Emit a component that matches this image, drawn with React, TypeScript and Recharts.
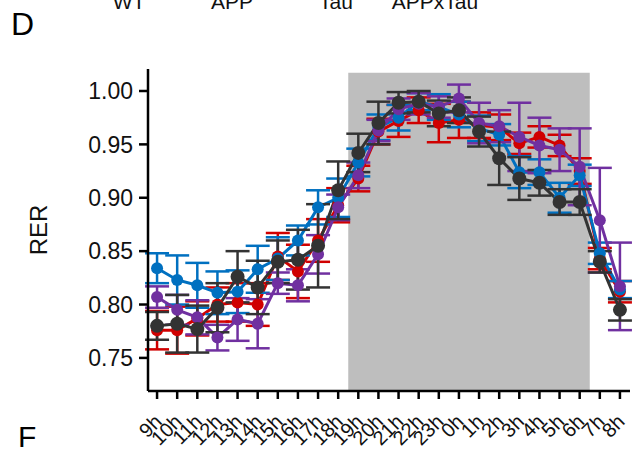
import { LineChart, Line, XAxis, YAxis, ReferenceArea, ErrorBar } from 'recharts';

// hours of the day, 9h through 8h next morning
const hours = ['9h', '10h', '11h', '12h', '13h', '14h', '15h', '16h', '17h', '18h', '19h', '20h',
  '21h', '22h', '23h', '0h', '1h', '2h', '3h', '4h', '5h', '6h', '7h', '8h'];

// RER means and SEM per group
const wt = [0.776, 0.776, 0.787, 0.800, 0.802, 0.800, 0.845, 0.831, 0.860, 0.893, 0.918, 0.962,
  0.972, 0.982, 0.970, 0.973, 0.968, 0.966, 0.951, 0.957, 0.949, 0.925, 0.843, 0.812];
const wtErr = [0.018, 0.022, 0.016, 0.016, 0.018, 0.02, 0.022, 0.025, 0.02, 0.016, 0.012, 0.012,
  0.015, 0.012, 0.018, 0.017, 0.012, 0.012, 0.01, 0.01, 0.01, 0.012, 0.01, 0.01];

const app = [0.834, 0.823, 0.818, 0.811, 0.812, 0.833, 0.843, 0.860, 0.891, 0.900, 0.933, 0.966,
  0.975, 0.990, 0.985, 0.978, 0.965, 0.959, 0.924, 0.924, 0.900, 0.921, 0.848, 0.814];
const appErr = [0.014, 0.023, 0.021, 0.02, 0.02, 0.022, 0.02, 0.014, 0.016, 0.018, 0.013, 0.012,
  0.012, 0.008, 0.012, 0.012, 0.012, 0.01, 0.015, 0.012, 0.014, 0.01, 0.01, 0.008];

const tau = [0.807, 0.795, 0.788, 0.769, 0.786, 0.782, 0.820, 0.818, 0.847, 0.891, 0.921, 0.963,
  0.983, 0.988, 0.985, 0.993, 0.970, 0.967, 0.957, 0.949, 0.945, 0.929, 0.879, 0.817];
const tauErr = [0.01, 0.014, 0.016, 0.012, 0.02, 0.023, 0.01, 0.015, 0.018, 0.012, 0.012, 0.01,
  0.01, 0.01, 0.01, 0.013, 0.019, 0.015, 0.032, 0.026, 0.02, 0.036, 0.049, 0.041];

const appTau = [0.780, 0.782, 0.777, 0.797, 0.826, 0.816, 0.840, 0.842, 0.855, 0.907, 0.942, 0.970,
  0.989, 0.990, 0.979, 0.982, 0.962, 0.937, 0.918, 0.914, 0.896, 0.896, 0.840, 0.795];
const appTauErr = [0.013, 0.027, 0.022, 0.023, 0.024, 0.025, 0.02, 0.028, 0.039, 0.027, 0.018, 0.02,
  0.01, 0.01, 0.012, 0.012, 0.014, 0.025, 0.02, 0.012, 0.012, 0.012, 0.01, 0.01];

const yTicks = [0.75, 0.8, 0.85, 0.9, 0.95, 1.0];
const legendNames = ['WT', 'APP', 'Tau', 'APPxTau'];

const FONT = '"Liberation Sans", Arial, sans-serif';

const data = hours.map((h, i) => ({
  i,
  hour: h,
  wt: wt[i], wtErr: wtErr[i],
  app: app[i], appErr: appErr[i],
  tau: tau[i], tauErr: tauErr[i],
  appTau: appTau[i], appTauErr: appTauErr[i],
}));

const series = [
  { key: 'wt', color: '#D00000', r: 6 },
  { key: 'app', color: '#0070C0', r: 6 },
  { key: 'tau', color: '#7030A0', r: 6 },
  { key: 'appTau', color: '#333333', r: 7 },
];

function HourTick(props: any) {
  const { x, y, payload } = props;
  return (
    <g transform={`translate(${x + 6},${y + 22})`}>
      <text transform="rotate(-45)" textAnchor="end" fontSize={20} fill="#111" fontFamily={FONT}>
        {hours[payload.value]}
      </text>
    </g>
  );
}

export default function App() {
  return (
    <div style={{ position: 'absolute', left: 0, top: 0, width: 632, height: 455, background: '#fff' }}>
      <svg width={632} height={455} style={{ position: 'absolute', left: 0, top: 0 }}>
        <text x={11} y={35} fontSize={32} fontFamily={FONT} fill="#000">D</text>
        <text x={18} y={447} fontSize={30} fontFamily={FONT} fill="#000">F</text>
        {legendNames.map((n, k) => (
          <text key={n} x={[129, 232, 336, 435][k]} y={9} fontSize={21} textAnchor="middle" fontFamily={FONT} fill="#111">{n}</text>
        ))}
        <text transform="translate(47,230) rotate(-90)" fontSize={24} textAnchor="middle" fontFamily={FONT} fill="#111">RER</text>
      </svg>
      <div style={{ position: 'absolute', left: 0, top: 0 }}>
        <LineChart width={632} height={455} data={data} margin={{ top: 69, right: 2, bottom: 14, left: 0 }}>
          <ReferenceArea x1={9.5} x2={21.5} y1={0.719} y2={1.017} fill="#BEBEBE" fillOpacity={1} stroke="none" ifOverflow="visible" />
          <XAxis
            dataKey="i"
            type="number"
            domain={[-0.45, 23.5]}
            ticks={hours.map((_, i) => i)}
            interval={0}
            height={50}
            axisLine={{ stroke: '#000', strokeWidth: 2.5 }}
            tickLine={{ stroke: '#000', strokeWidth: 2.5 }}
            tickSize={8}
            tick={<HourTick />}
          />
          <YAxis
            type="number"
            domain={[0.719, 1.0206]}
            ticks={yTicks}
            width={148}
            allowDataOverflow
            axisLine={{ stroke: '#000', strokeWidth: 2.5 }}
            tickLine={{ stroke: '#000', strokeWidth: 2.5 }}
            tickSize={9}
            tickMargin={6}
            tick={{ fontSize: 23, fill: '#111', fontFamily: FONT }}
            tickFormatter={(v: number) => v.toFixed(2)}
          />
          {series.map((s) => (
            <Line
              key={s.key}
              dataKey={s.key}
              stroke={s.color}
              strokeWidth={3}
              dot={{ r: s.r, fill: s.color, stroke: 'none' }}
              activeDot={false}
              isAnimationActive={false}
            >
              <ErrorBar dataKey={`${s.key}Err`} direction="y" width={12} strokeWidth={2.5} stroke={s.color} />
            </Line>
          ))}
        </LineChart>
      </div>
    </div>
  );
}
